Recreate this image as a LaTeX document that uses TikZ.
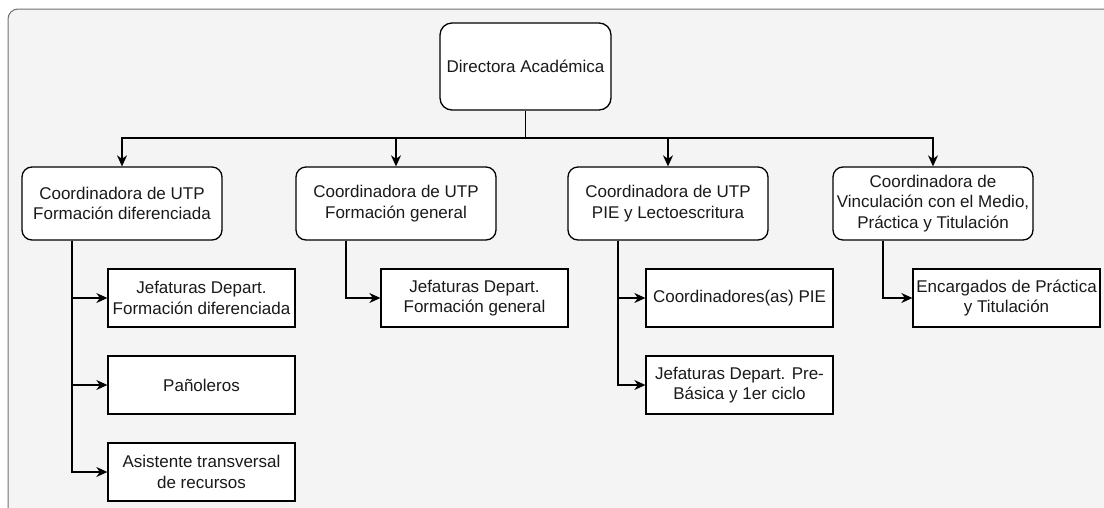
\documentclass[tikz,border=0pt]{standalone}
\usepackage{fontspec}
\setmainfont{Liberation Sans}
\usepackage{xcolor}
\usetikzlibrary{arrows.meta}

\definecolor{panel}{HTML}{F4F4F4}
\definecolor{panelline}{HTML}{707070}
\definecolor{ink}{HTML}{1A1A1A}

\tikzset{
  txt/.style={text=ink, align=center, inner sep=0pt, font=\fontsize{17}{20.5}\selectfont},
  rbox/.style={txt, draw=black, fill=white, line width=1.3pt, rounded corners=10pt,
    minimum width=200pt, minimum height=73pt},
  sbox/.style={txt, draw=black, fill=white, line width=1.3pt,
    minimum width=187pt, minimum height=58pt},
  wire/.style={line width=1.3pt},
  link/.style={wire, -{Stealth[length=11pt,width=10pt,inset=3.5pt]}}
}

\begin{document}
\begin{tikzpicture}[x=1pt,y=-1pt]
          \useasboundingbox (0,0) rectangle (1104,507);
          \clip (0,0) rectangle (1104,507);
          \draw[fill=panel, draw=panelline, line width=1pt, rounded corners=10pt] (8,9) rectangle (1130,540);

          \node[rbox, rounded corners=12pt, minimum width=171pt, minimum height=87pt] (dir) at (525.5,66.5) {Directora Académica};
          \coordinate (bus) at (525.5,138);

          \node[rbox] (c1) at (122,203.5) {Coordinadora de UTP\\Formación diferenciada};
          \node[rbox] (c2) at (396,203.5) {Coordinadora de UTP\\Formación general};
          \node[rbox] (c3) at (668,203.5) {Coordinadora de UTP\\PIE y Lectoescritura};
          \node[rbox] (c4) at (933,203.5) {Coordinadora de\\Vinculación con el Medio,\\Práctica y Titulación};

          \node[sbox] (j1) at (201.5,298) {Jefaturas Depart.\\Formación diferenciada};
          \node[sbox] (pan) at (201.5,385) {Pañoleros};
          \node[sbox] (asis) at (201.5,472) {Asistente transversal\\de recursos};
          \node[sbox] (j2) at (474.5,298) {Jefaturas Depart.\\Formación general};
          \node[sbox] (cpie) at (739.5,298) {Coordinadores(as) PIE};
          \node[sbox] (jpre) at (739.5,385) {Jefaturas Depart. Pre-\\Básica y 1er ciclo};
          \node[sbox] (enc) at (1006.5,298) {Encargados de Práctica\\y Titulación};

          \draw[wire] (dir) -- (bus);
          \draw[link] (bus) -| (c1);
          \draw[link] (bus) -| (c2);
          \draw[link] (bus) -| (c3);
          \draw[link] (bus) -| (c4);

          \draw[link] ([xshift=-50pt]c1.south) |- (j1);
          \draw[link] ([xshift=-50pt]c1.south) |- (pan);
          \draw[link] ([xshift=-50pt]c1.south) |- (asis);
          \draw[link] ([xshift=-50pt]c2.south) |- (j2);
          \draw[link] ([xshift=-50pt]c3.south) |- (cpie);
          \draw[link] ([xshift=-50pt]c3.south) |- (jpre);
          \draw[link] ([xshift=-50pt]c4.south) |- (enc);
\end{tikzpicture}
\end{document}
